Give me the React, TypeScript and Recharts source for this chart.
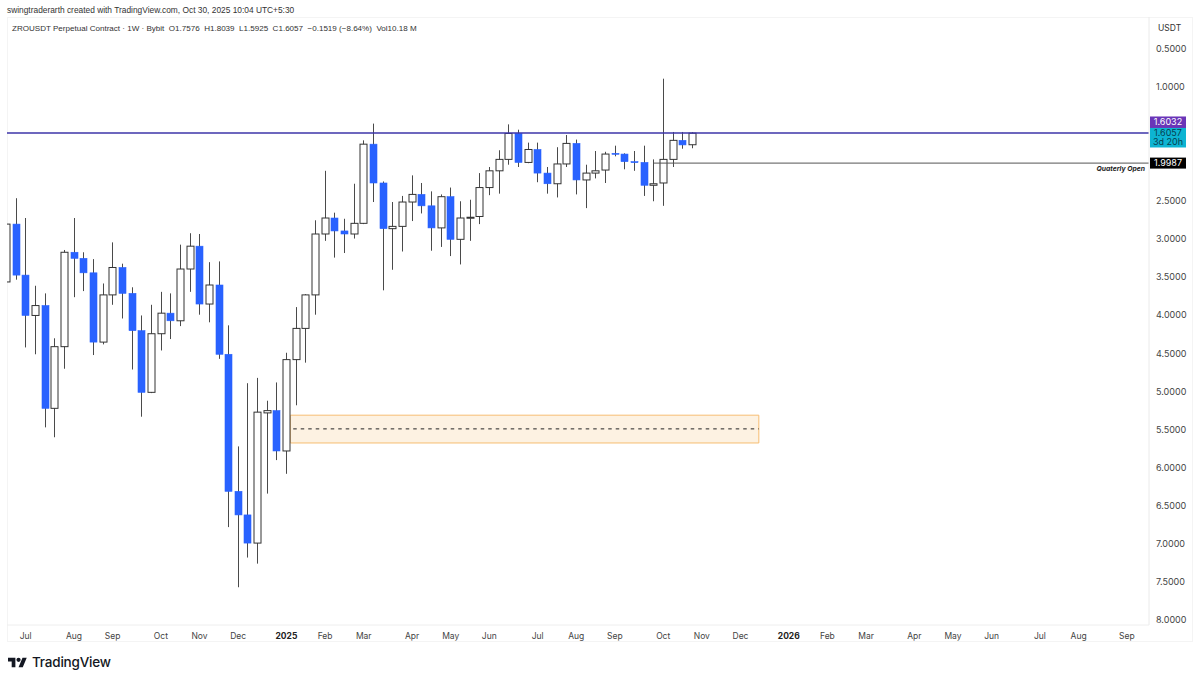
import React from "react";
import { ComposedChart, Bar, XAxis, YAxis, ReferenceLine, ReferenceArea } from "recharts";

// Weekly candles, first one is partly cut off by the left pane edge (week -1)
const opens = [3.56,2.80,3.47,4.00,3.87,5.22,4.41,3.17,3.25,3.44,4.35,3.73,3.37,3.71,4.20,5.01,4.24,3.97,4.07,3.39,3.09,3.85,3.60,4.51,6.31,6.62,6.99,5.28,5.25,5.78,4.58,4.17,3.73,2.93,2.72,2.89,2.93,2.79,1.75,2.26,2.86,2.83,2.51,2.41,2.56,2.85,2.44,3.00,2.72,2.70,2.32,2.10,1.95,1.61,1.99,1.82,2.13,2.27,2.01,1.74,2.22,2.13,2.09,1.87,1.88,1.98,1.99,2.29,2.26,1.95,1.70,1.7576];
const closes = [2.80,3.47,4.00,3.87,5.22,4.41,3.17,3.25,3.44,4.35,3.73,3.37,3.71,4.20,5.01,4.24,3.97,4.07,3.39,3.09,3.85,3.60,4.51,6.31,6.62,6.99,5.27,5.25,5.78,4.58,4.17,3.73,2.93,2.72,2.89,2.93,2.79,1.75,2.26,2.86,2.83,2.51,2.41,2.56,2.85,2.44,3.00,2.72,2.71,2.32,2.10,1.95,1.61,1.99,1.82,2.13,2.27,2.01,1.74,2.22,2.13,2.10,1.88,1.88,1.98,1.99,2.29,2.27,1.95,1.70,1.76,1.6057];
const lows = [2.79,2.46,2.72,3.61,3.71,4.30,3.14,2.72,3.17,3.26,3.58,3.04,3.32,3.63,4.00,3.86,3.69,3.71,3.07,2.92,2.93,3.30,3.29,4.13,5.72,4.89,4.82,5.12,4.88,4.49,3.89,3.72,2.75,2.10,2.65,2.73,2.27,1.70,1.48,2.24,2.51,2.43,2.16,2.26,2.37,2.41,2.32,2.50,2.48,2.13,2.05,1.83,1.49,1.56,1.73,1.73,2.05,1.79,1.63,1.69,2.02,1.84,1.85,1.77,1.87,1.84,1.77,1.95,0.89,1.59,1.59,1.5925];
const highs = [3.57,3.53,4.42,4.51,5.47,5.60,4.70,3.76,3.68,4.52,4.38,3.86,4.04,4.71,5.33,5.02,4.46,4.31,4.14,3.69,3.99,4.09,4.57,6.78,7.57,7.18,7.26,6.34,5.90,6.08,5.18,4.62,3.99,3.02,3.24,3.18,2.99,2.80,2.51,3.67,3.40,3.16,2.76,2.66,3.15,3.10,3.22,3.33,3.02,2.80,2.42,2.40,2.02,2.05,2.00,2.25,2.40,2.45,2.05,2.41,2.59,2.20,2.26,1.91,2.08,2.10,2.43,2.50,2.56,2.05,1.81,1.8039];

const tickWeeks = [1,6,10,15,19,23,28,32,36,41,45,49,54,58,62,67,71,75,80,84,88,93,97,101,106,110,115];
const tickLabels = ["Jul","Aug","Sep","Oct","Nov","Dec","2025","Feb","Mar","Apr","May","Jun","Jul","Aug","Sep","Oct","Nov","Dec","2026","Feb","Mar","Apr","May","Jun","Jul","Aug","Sep"];
const priceTicks = [0.5,1,2.5,3,3.5,4,4.5,5,5.5,6,6.5,7,7.5,8];

const resistance = 1.6032;
const quarterlyOpen = 1.9987;
const zoneTop = 5.31;
const zoneBottom = 5.675;
const zoneMid = 5.49;
const zoneStartWeek = 28.4;
const zoneEndWeek = 76.9;
const quarterlyStartWeek = 66;

const FONT = "Inter, 'Liberation Sans', sans-serif";
const HEAD_FONT = "'Liberation Sans', Arial, sans-serif";
const X_DOMAIN: [number, number] = [-0.93, 117.29];
const Y_DOMAIN: [number, number] = [0.0797, 8.066];

const rows = opens.map((o, i) => ({
  week: i - 1,
  open: o,
  close: closes[i],
  low: lows[i],
  high: highs[i],
  range: [lows[i], highs[i]],
}));

function Candle(props: any) {
  const { x, y, width, height, payload } = props;
  const top = Math.min(y, y + height);
  const span = Math.abs(height);
  const k = span / (payload.high - payload.low);
  const cx = Math.round(x + width / 2) + 0.5;
  const down = payload.close < payload.open; // white on this inverted scale
  const bodyTop = top + (Math.min(payload.open, payload.close) - payload.low) * k;
  const bodyH = Math.max(Math.abs(payload.open - payload.close) * k, 1);
  return (
    <g>
      <line x1={cx} x2={cx} y1={top} y2={top + span} stroke="#4a4a4a" strokeWidth={1} />
      <rect
        x={cx - 3.5}
        y={bodyTop}
        width={7}
        height={bodyH}
        fill={down ? "#ffffff" : "#2962ff"}
        stroke={down ? "#333333" : "#2962ff"}
        strokeWidth={down ? 1 : 0.6}
      />
    </g>
  );
}

function TimeTick(props: any) {
  const { x, y, payload } = props;
  const label = tickLabels[tickWeeks.indexOf(payload.value)];
  const bold = label === "2025" || label === "2026";
  return (
    <text x={x} y={y + 6} textAnchor="middle" fontFamily={FONT} fontSize={8.5} fontWeight={bold ? 700 : 400} fill={bold ? "#222" : "#444"}>
      {label}
    </text>
  );
}

function PriceTick(props: any) {
  const { y, payload } = props;
  return (
    <text x={1156} y={y + 3} fontFamily={FONT} fontSize={9} fill="#444">
      {payload.value.toFixed(4)}
    </text>
  );
}

function PriceBoxes(props: any) {
  const { viewBox } = props;
  const lineY = viewBox.y;
  const right = viewBox.x + viewBox.width;
  return (
    <g fontFamily={FONT} fontSize={9} textAnchor="middle">
      <rect x={right + 1} y={lineY - 16.5} width={36} height={11.5} fill="#6a35b8" />
      <text x={right + 19} y={lineY - 7.5} fill="#fff">1.6032</text>
      <rect x={right + 1} y={lineY - 5} width={36} height={19.5} fill="#0db4d2" />
      <text x={right + 19} y={lineY + 3.5} fill="#07404f">1.6057</text>
      <text x={right + 19} y={lineY + 12.5} fill="#07404f">3d 20h</text>
    </g>
  );
}

function QuarterBox(props: any) {
  const { viewBox } = props;
  const lineY = viewBox.y;
  const right = 1149;
  return (
    <g fontFamily={FONT}>
      <text x={right - 4} y={lineY + 8} textAnchor="end" fontSize={6.8} fontWeight={700} fontStyle="italic" fill="#222">
        Quaterly Open
      </text>
      <rect x={right + 1} y={lineY - 5.5} width={36} height={11} fill="#000" />
      <text x={right + 19} y={lineY + 3} textAnchor="middle" fontSize={9} fill="#fff">1.9987</text>
    </g>
  );
}

export default function App() {
  return (
    <div style={{ position: "absolute", left: 0, top: 0, width: 1200, height: 682, background: "#fff", overflow: "hidden", fontFamily: FONT }}>
      <div style={{ position: "absolute", left: 7, top: 17, width: 1186, height: 625, border: "1px solid #f4f4f4", boxSizing: "border-box" }} />
      <ComposedChart width={1200} height={682} data={rows} margin={{ top: 17, left: 7, right: 7, bottom: 40 }} style={{ position: "absolute", left: 0, top: 0 }}>
        <XAxis
          dataKey="week"
          type="number"
          domain={X_DOMAIN}
          allowDataOverflow
          ticks={tickWeeks}
          interval={0}
          tick={<TimeTick />}
          tickLine={false}
          axisLine={{ stroke: "#eeeeee" }}
          height={17}
        />
        <YAxis
          orientation="right"
          reversed
          type="number"
          domain={Y_DOMAIN}
          allowDataOverflow
          ticks={priceTicks}
          interval={0}
          tick={<PriceTick />}
          tickLine={false}
          axisLine={{ stroke: "#eaeaea" }}
          width={44}
        />
        <ReferenceArea
          x1={zoneStartWeek}
          x2={zoneEndWeek}
          y1={zoneTop}
          y2={zoneBottom}
          fill="#fdf2e2"
          fillOpacity={1}
          stroke="#f6bd72"
          strokeWidth={1}
        />
        <ReferenceLine
          segment={[{ x: zoneStartWeek + 0.3, y: zoneMid }, { x: zoneEndWeek, y: zoneMid }]}
          stroke="#222"
          strokeDasharray="3.5 4"
          strokeWidth={1}
        />
        <ReferenceLine
          segment={[{ x: quarterlyStartWeek, y: quarterlyOpen }, { x: X_DOMAIN[1], y: quarterlyOpen }]}
          stroke="#555"
          strokeWidth={1}
          label={<QuarterBox />}
        />
        <Bar dataKey="range" barSize={7} shape={<Candle />} isAnimationActive={false} />
        <ReferenceLine y={resistance} stroke="#3d34a8" strokeWidth={1.4} label={<PriceBoxes />} />
      </ComposedChart>
      <div style={{ position: "absolute", left: 7, top: 5, fontFamily: HEAD_FONT, fontSize: 8.37, lineHeight: "11px", color: "#333", whiteSpace: "nowrap" }}>
        swingtraderarth created with TradingView.com, Oct 30, 2025 10:04 UTC+5:30
      </div>
      <div style={{ position: "absolute", left: 12, top: 23, fontFamily: HEAD_FONT, fontSize: 8.05, lineHeight: "11px", color: "#333", whiteSpace: "nowrap" }}>
        ZROUSDT Perpetual Contract · 1W · Bybit&nbsp; O1.7576&nbsp; H1.8039&nbsp; L1.5925&nbsp; C1.6057&nbsp; −0.1519 (−8.64%)&nbsp; Vol10.18 M
      </div>
      <div style={{ position: "absolute", left: 1158, top: 23, fontSize: 8.5, lineHeight: "11px", color: "#333" }}>USDT</div>
      <svg style={{ position: "absolute", left: 8, top: 657 }} width={19} height={11} viewBox="0 4 36 18">
        <path d="M14 22H7V11H0V4h14v18zM28 22h-8l7.5-18h8L28 22z" fill="#131722" />
        <circle cx="20" cy="8" r="4" fill="#131722" />
      </svg>
      <div style={{ position: "absolute", left: 32, top: 653, fontSize: 13.5, lineHeight: "18px", fontWeight: 500, color: "#131722", letterSpacing: -0.2 }}>TradingView</div>
    </div>
  );
}
